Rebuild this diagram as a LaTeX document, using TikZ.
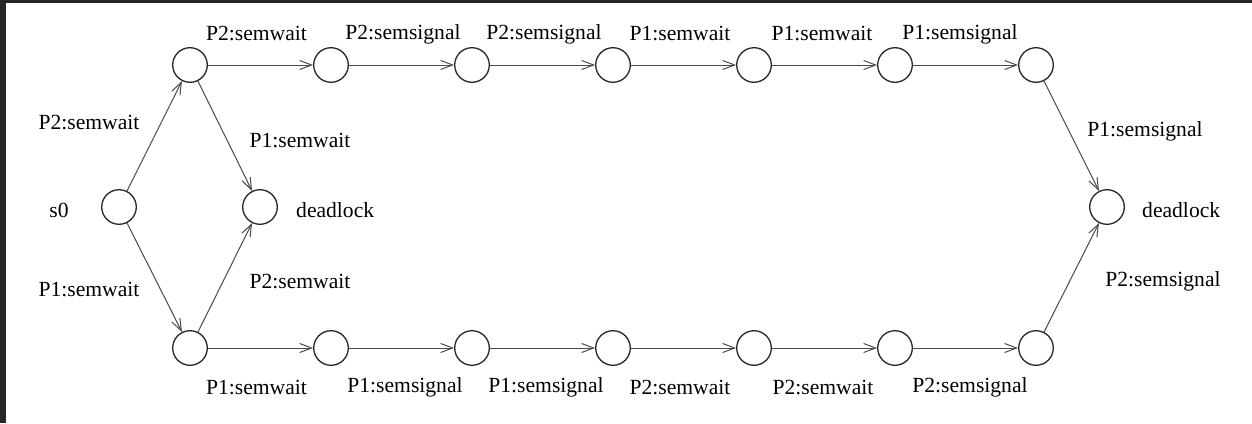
\documentclass[tikz,border=0pt]{standalone}
\usepackage{fontspec}
\setmainfont{Liberation Serif}
\usetikzlibrary{arrows.meta}
\definecolor{frame}{HTML}{262626}
\definecolor{edge}{HTML}{4a4a4a}
\begin{document}
\begin{tikzpicture}[x=1pt,y=-1pt,
  state/.style={circle,draw=black!85,line width=1.3pt,minimum size=34.6pt,inner sep=0pt},
  lbl/.style={font=\rmfamily\fontsize{21.6}{25}\selectfont,inner sep=0pt},
  tr/.style={draw=edge,line width=1pt,-{Straight Barb[length=12pt,width=9pt,line width=1pt]}}]
\useasboundingbox (0,0) rectangle (1252,423);
\fill[white] (0,0) rectangle (1252,423);
\fill[frame] (0,0) rectangle (6,423);
\fill[frame] (0,0) rectangle (1252,3);
% states
\node[state] (s0) at (119,207) {};
\node[state] (d1) at (260,207) {};
\node[state] (d2) at (1107,207) {};
\foreach \i/\x in {1/190,2/331,3/472,4/613,5/754,6/895,7/1036}{
  \node[state] (t\i) at (\x,65) {};
  \node[state] (b\i) at (\x,348) {};
}
% state labels
\node[lbl] (ls0) at (59,210) {s0};
\node[lbl,anchor=west] (ld1) at (296,210) {deadlock};
\node[lbl,anchor=west] (ld2) at (1142,210) {deadlock};
% edges
\draw[tr] (s0) -- (t1);
\draw[tr] (s0) -- (b1);
\draw[tr] (t1) -- (d1);
\draw[tr] (b1) -- (d1);
\draw[tr] (t7) -- (d2);
\draw[tr] (b7) -- (d2);
\foreach \a/\b in {1/2,2/3,3/4,4/5,5/6,6/7}{
  \draw[tr] (t\a) -- (t\b);
  \draw[tr] (b\a) -- (b\b);
}
% edge labels top
\node[lbl] (lt1) at (256.5,34) {P2:semwait};
\node[lbl] (lt2) at (403,34) {P2:semsignal};
\node[lbl] (lt3) at (544,34) {P2:semsignal};
\node[lbl] (lt4) at (680,34) {P1:semwait};
\node[lbl] (lt5) at (822,34) {P1:semwait};
\node[lbl] (lt6) at (960,34) {P1:semsignal};
% edge labels bottom
\node[lbl] (lb1) at (256.5,387) {P1:semwait};
\node[lbl] (lb2) at (405,387) {P1:semsignal};
\node[lbl] (lb3) at (546,387) {P1:semsignal};
\node[lbl] (lb4) at (680,387) {P2:semwait};
\node[lbl] (lb5) at (823,387) {P2:semwait};
\node[lbl] (lb6) at (970,387) {P2:semsignal};
% diagonal labels
\node[lbl] (l1) at (89,123) {P2:semwait};
\node[lbl] (l2) at (89,289) {P1:semwait};
\node[lbl] (l3) at (300,140) {P1:semwait};
\node[lbl] (l4) at (300,281) {P2:semwait};
\node[lbl] (l5) at (1145,131) {P1:semsignal};
\node[lbl] (l6) at (1163,281) {P2:semsignal};
\end{tikzpicture}
\end{document}
